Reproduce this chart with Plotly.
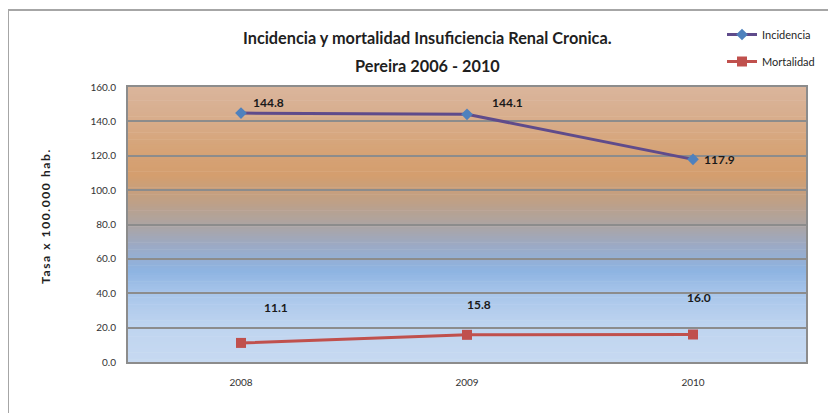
import plotly.graph_objects as go

years = ["2008", "2009", "2010"]
incidencia = [144.8, 144.1, 117.9]
mortalidad = [11.1, 15.8, 16.0]
y_ticks = [0, 20, 40, 60, 80, 100, 120, 140, 160]

fig = go.Figure()
fig.add_trace(go.Scatter(
    x=years, y=incidencia, name="Incidencia", mode="lines+markers",
    line=dict(color="#5F4B8B", width=3),
    marker=dict(symbol="diamond", size=9, color="#4F81BD"),
    legendgroup="a"))
fig.add_trace(go.Scatter(
    x=years, y=mortalidad, name="Mortalidad", mode="lines+markers",
    line=dict(color="#C0504D", width=3),
    marker=dict(symbol="square", size=10, color="#C0504D"),
    legendgroup="b"))

# gradient background (style only)
stops = [
    (0.00, (198, 217, 241)),
    (0.12, (192, 213, 240)),
    (0.25, (168, 197, 234)),
    (0.33, (142, 180, 226)),
    (0.42, (155, 170, 198)),
    (0.50, (172, 164, 162)),
    (0.58, (190, 160, 135)),
    (0.68, (212, 158, 110)),
    (0.78, (214, 164, 120)),
    (0.90, (216, 174, 142)),
    (1.00, (218, 181, 156)),
]
def col(t):
    for i in range(len(stops) - 1):
        a, ca = stops[i]
        b, cb = stops[i + 1]
        if a <= t <= b:
            f = (t - a) / (b - a)
            return "rgb(%d,%d,%d)" % tuple(round(ca[k] + (cb[k] - ca[k]) * f) for k in range(3))
    return "rgb(%d,%d,%d)" % stops[-1][1]

N = 120
shapes = []
for i in range(N):
    t0 = i / N
    t1 = (i + 1) / N
    shapes.append(dict(type="rect", xref="paper", yref="paper",
                       x0=0, x1=1, y0=t0, y1=min(1, t1 + 0.002), layer="below",
                       line=dict(width=0), fillcolor=col((t0 + t1) / 2)))
# outer chart frame
shapes.append(dict(type="rect", xref="paper", yref="paper",
                   x0=-0.177, x1=1.06, y0=-0.25, y1=1.28,
                   line=dict(color="#A6A6A6", width=2), fillcolor="rgba(0,0,0,0)"))

annotations = [
    dict(text="<b>Incidencia y mortalidad Insuficiencia Renal Cronica.</b>",
         xref="paper", yref="paper", x=(427 - 128) / 678, y=(362 - 38) / 275,
         showarrow=False, font=dict(size=16.3, color="#1F1F1F", family="Lato"),
         xanchor="center", yanchor="middle"),
    dict(text="<b>Pereira 2006 - 2010</b>",
         xref="paper", yref="paper", x=(427 - 128) / 678, y=(362 - 66) / 275,
         showarrow=False, font=dict(size=16.3, color="#1F1F1F", family="Lato"),
         xanchor="center", yanchor="middle"),
    dict(text='<b><span style="letter-spacing:1.6px">Tasa x 100.000 hab.</span></b>',
         xref="paper", yref="paper", x=(45 - 128) / 678, y=(362 - 216) / 275,
         textangle=-90, showarrow=False, font=dict(size=12, color="#1F1F1F", family="Lato"),
         xanchor="center", yanchor="middle"),
]
inc_shift = [(27, 11), (40, 12), (26, 0)]
mort_shift = [(35, 35), (12, 30), (6, 37)]
for i, y in enumerate(years):
    annotations.append(dict(x=i, y=incidencia[i], xref="x", yref="y",
                            text="<b>%.1f</b>" % incidencia[i],
                            showarrow=False, xshift=inc_shift[i][0], yshift=inc_shift[i][1],
                            font=dict(size=12, color="#1A1A1A", family="Lato")))
    annotations.append(dict(x=i, y=mortalidad[i], xref="x", yref="y",
                            text="<b>%.1f</b>" % mortalidad[i],
                            showarrow=False, xshift=mort_shift[i][0], yshift=mort_shift[i][1],
                            font=dict(size=12, color="#1A1A1A", family="Lato")))

fig.update_layout(
    width=836, height=413,
    margin=dict(l=120, r=38, t=79, b=59),
    paper_bgcolor="white", plot_bgcolor="rgba(0,0,0,0)",
    font=dict(family="Lato", color="#333333", size=11),
    shapes=shapes, annotations=annotations,
    legend=dict(x=(722 - 128) / 678, y=(362 - 20) / 275, xanchor="left", yanchor="top",
                bgcolor="rgba(0,0,0,0)", tracegroupgap=8,
                font=dict(size=11, color="#1F1F1F", family="Lato")),
    showlegend=True,
)
fig.update_xaxes(type="category", categoryorder="array", categoryarray=years,
                 range=[-0.5, 2.5], automargin=False,
                 showgrid=False, showline=True, mirror=True,
                 linecolor="#8C8C8C", linewidth=2, ticks="", ticklabelstandoff=10,
                 tickfont=dict(size=10, color="#333333"))
fig.update_yaxes(range=[0, 160], tickvals=y_ticks, ticktext=["%.1f" % v for v in y_ticks],
                 automargin=False,
                 showgrid=True, gridcolor="#8C8C8C", gridwidth=2,
                 showline=True, mirror=True, linecolor="#8C8C8C", linewidth=2,
                 zeroline=False, ticks="", ticklabelstandoff=8,
                 tickfont=dict(size=10, color="#333333"))

fig.write_html("out.html")
